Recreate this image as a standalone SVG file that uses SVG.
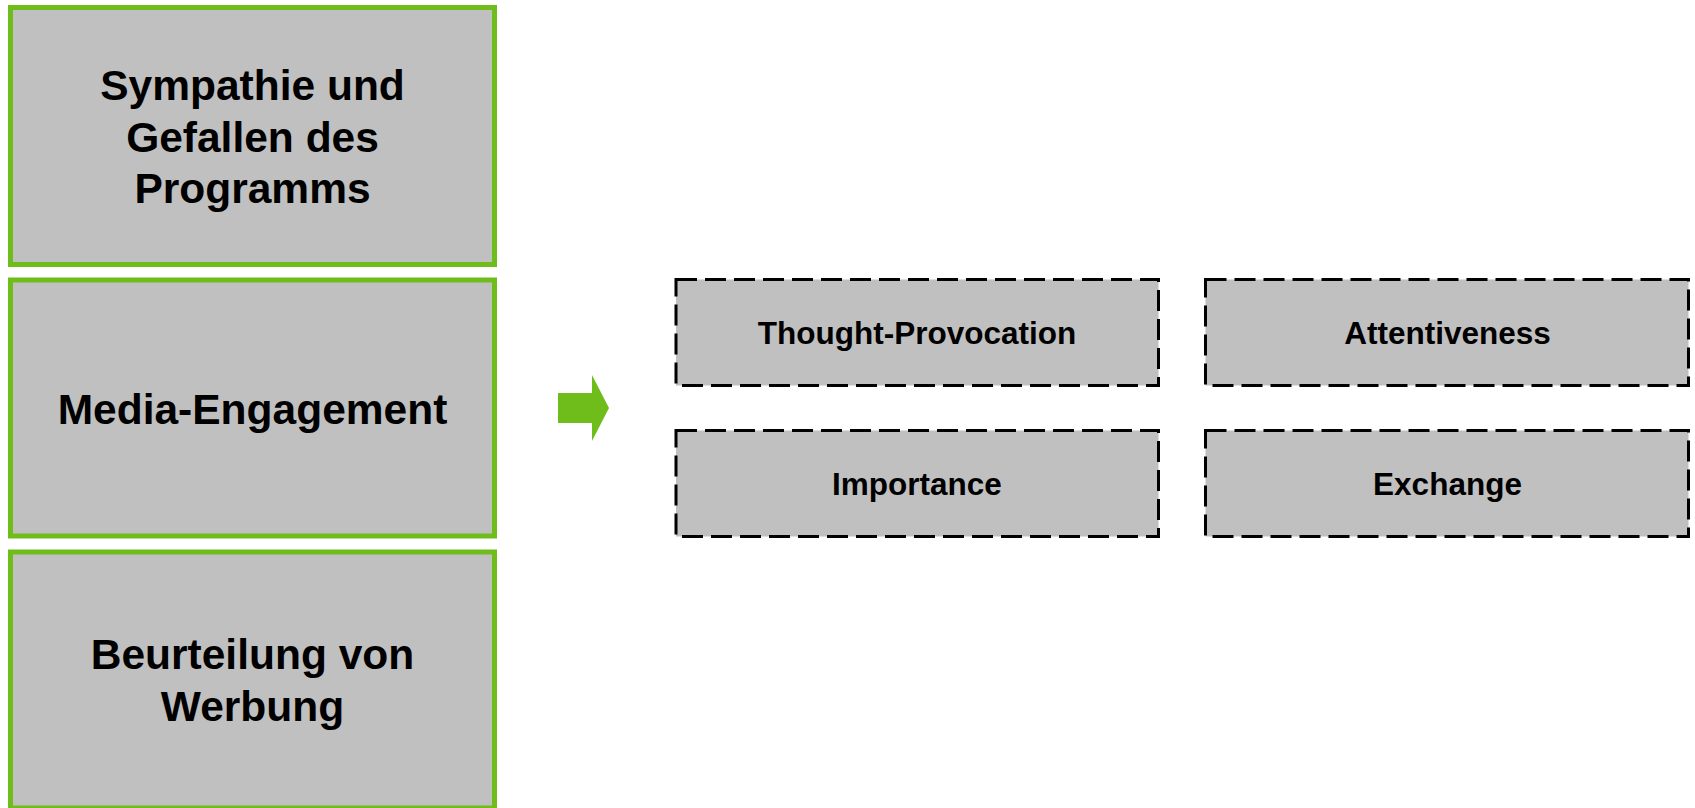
<svg xmlns="http://www.w3.org/2000/svg" width="1695" height="808" viewBox="0 0 1695 808">
<style>
.main{fill:#C0C0C0;stroke:#6EBD1A;stroke-width:5}
.sub{fill:#C0C0C0;stroke:#000;stroke-width:3;stroke-dasharray:21 8}
.t1{font-family:"Liberation Sans",Arial,sans-serif;font-weight:bold;font-size:42.5px;fill:#000;text-anchor:middle}
.t2{font-family:"Liberation Sans",Arial,sans-serif;font-weight:bold;font-size:31.5px;fill:#000;text-anchor:middle}
</style>
<rect width="1695" height="808" fill="#fff"/>
<g id="sympathie">
<rect class="main" x="10.5" y="7.5" width="484" height="257"/>
<text class="t1" x="252.5"><tspan x="252.5" y="100">Sympathie und</tspan><tspan x="252.5" y="151.5">Gefallen des</tspan><tspan x="252.5" y="203">Programms</tspan></text>
</g>
<g id="media-engagement">
<rect class="main" x="10.5" y="280" width="484" height="256"/>
<text class="t1" x="252.5" y="424">Media-Engagement</text>
</g>
<g id="beurteilung">
<rect class="main" x="10.5" y="552" width="484" height="256"/>
<text class="t1" x="252.5"><tspan x="252.5" y="669">Beurteilung von</tspan><tspan x="252.5" y="721">Werbung</tspan></text>
</g>
<g id="connectors">
<polygon points="558,393 592,393 592,375 609,408 592,441 592,423 558,423" fill="#6EBD1A"/>
</g>
<g id="thought-provocation">
<rect class="sub" x="676" y="279.5" width="482.5" height="106"/>
<text class="t2" x="917" y="344">Thought-Provocation</text>
</g>
<g id="attentiveness">
<rect class="sub" x="1205.5" y="279.5" width="483" height="106"/>
<text class="t2" x="1447.5" y="344">Attentiveness</text>
</g>
<g id="importance">
<rect class="sub" x="676" y="430.5" width="482.5" height="106"/>
<text class="t2" x="917" y="495">Importance</text>
</g>
<g id="exchange">
<rect class="sub" x="1205.5" y="430.5" width="483" height="106"/>
<text class="t2" x="1447.5" y="495">Exchange</text>
</g>
</svg>
